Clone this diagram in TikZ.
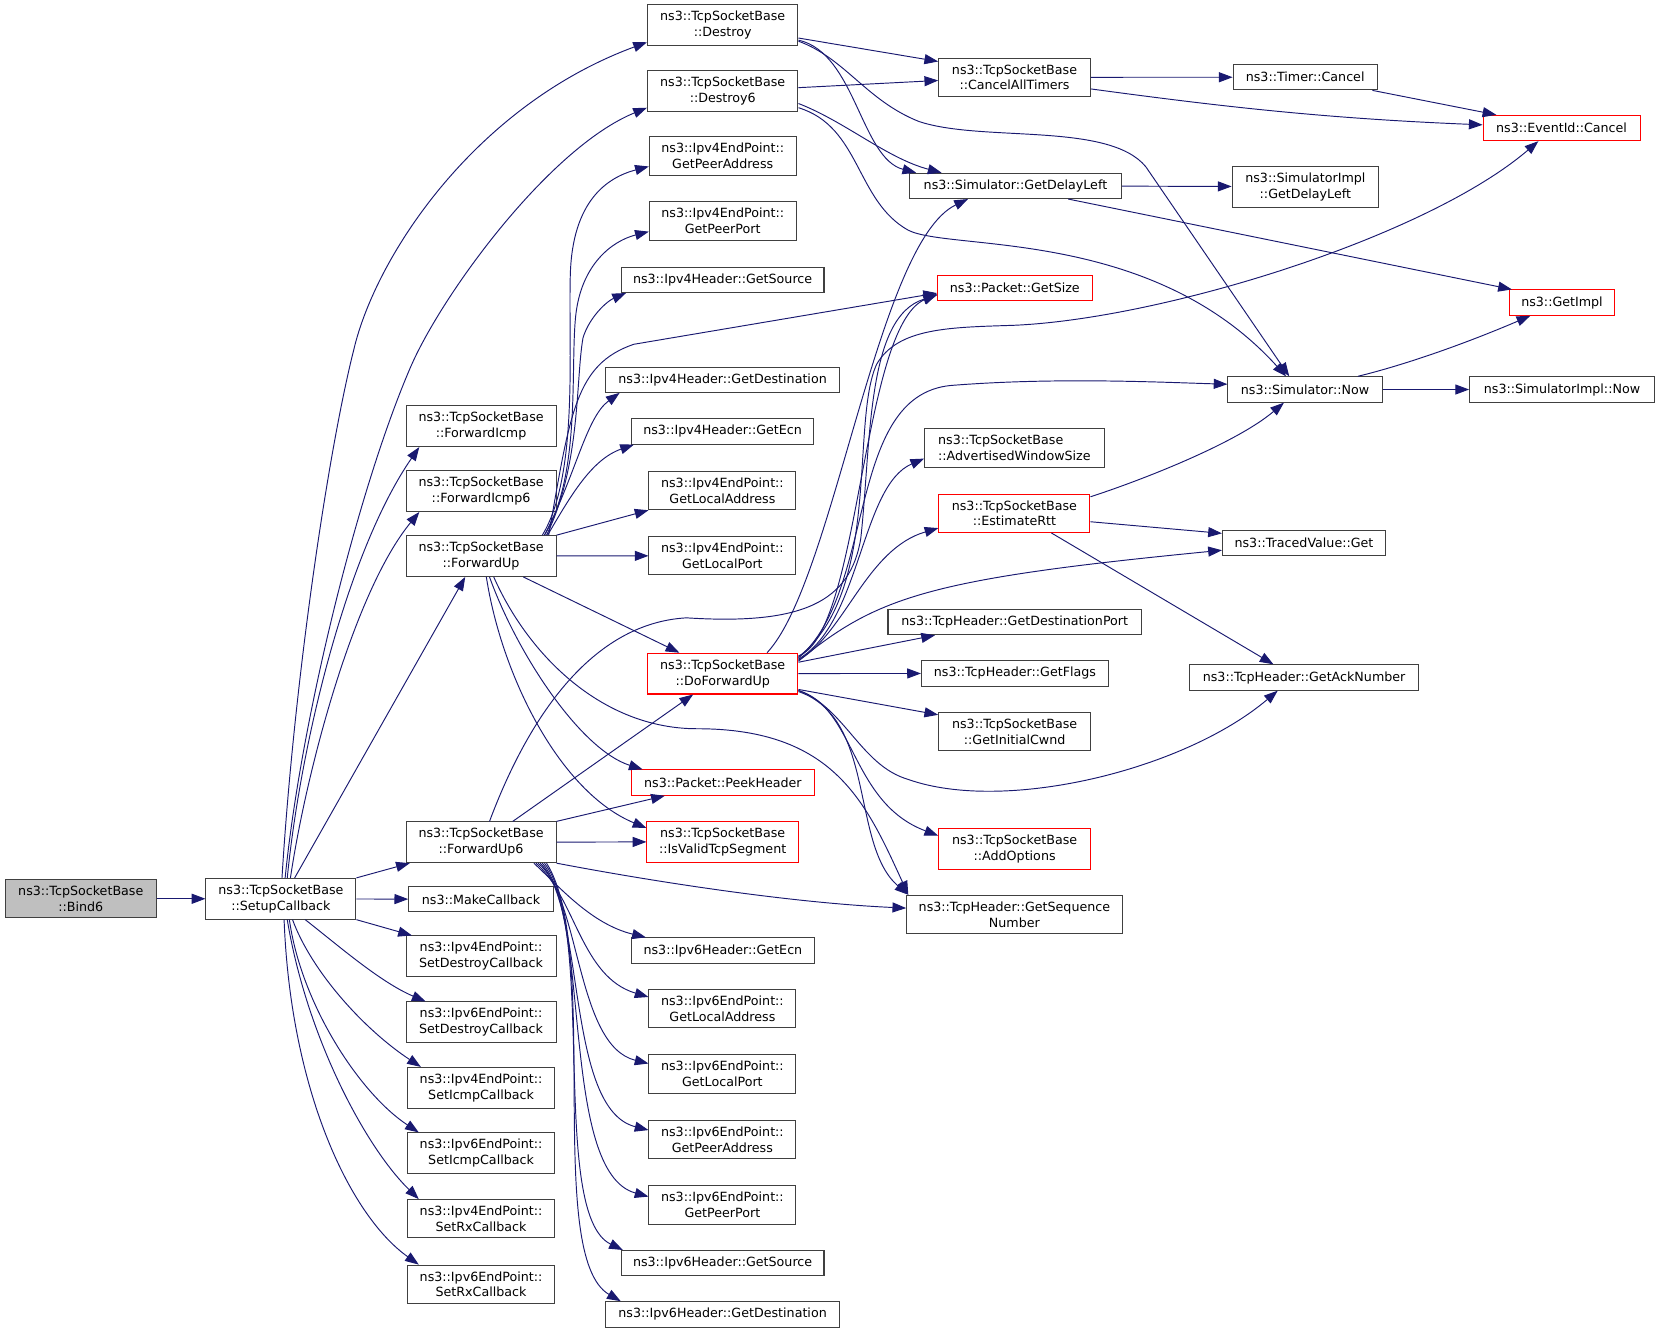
\documentclass[tikz,border=0pt]{standalone}
\usepackage{fontspec}
\setmainfont{DejaVu Sans}
\usetikzlibrary{arrows.meta}
\definecolor{edgeblue}{RGB}{25,25,112}
\definecolor{boxgray}{RGB}{191,191,191}
\definecolor{boxline}{RGB}{64,64,64}

\begin{document}
\begin{tikzpicture} [x=1pt, y=-1pt, fn/.style={rectangle, draw=boxline, line width=0.95pt, align=center, inner xsep=3pt, inner ysep=6pt, minimum height=24pt, font=\fontsize{12}{15}\selectfont}, fnred/.style={fn, draw=red}, fnmain/.style={fn, fill=boxgray}, call/.style={draw=edgeblue, line width=0.9pt, -{Triangle[length=13pt,width=9.5pt]}}]

	\useasboundingbox (0,0) rectangle (1568,1262);

	% caller
	\node [fnmain, minimum width=143pt] (bind6) at (76.5,851) {ns3::TcpSocketBase\\::Bind6};
	\node [fn, minimum width=142pt] (setup) at (266,851) {ns3::TcpSocketBase\\::SetupCallback};

	% callees of SetupCallback
	\node [fn, minimum width=142pt] (ficmp) at (455.5,403.5) {ns3::TcpSocketBase\\::ForwardIcmp};
	\node [fn, below of=ficmp, minimum width=142pt, node distance=61.5pt] (ficmp6) {ns3::TcpSocketBase\\::ForwardIcmp6};
	\node [fn, below of=ficmp6, minimum width=142pt, node distance=61.5pt] (fwdup) {ns3::TcpSocketBase\\::ForwardUp};
	\node [fn, minimum width=142pt] (fwdup6) at (455.5,797.5) {ns3::TcpSocketBase\\::ForwardUp6};
	\node [fn, minimum width=137pt] (mkcb) at (455.5,851.5) {ns3::MakeCallback};
	\node [fn, below of=mkcb, minimum width=142pt, node distance=54pt] (sdes4) {ns3::Ipv4EndPoint::\\SetDestroyCallback};
	\node [fn, below of=sdes4, minimum width=142pt, node distance=62.5pt] (sdes6) {ns3::Ipv6EndPoint::\\SetDestroyCallback};
	\node [fn, below of=sdes6, minimum width=139pt, node distance=62pt] (sicmp4) {ns3::Ipv4EndPoint::\\SetIcmpCallback};
	\node [fn, below of=sicmp4, minimum width=139pt, node distance=62pt] (sicmp6) {ns3::Ipv6EndPoint::\\SetIcmpCallback};
	\node [fn, below of=sicmp6, minimum width=139pt, node distance=62pt] (srx4) {ns3::Ipv4EndPoint::\\SetRxCallback};
	\node [fn, below of=srx4, minimum width=139pt, node distance=62pt] (srx6) {ns3::Ipv6EndPoint::\\SetRxCallback};

	% third column
	\node [fn, minimum width=142.5pt] (destroy) at (684.3,24) {ns3::TcpSocketBase\\::Destroy};
	\node [fn, below of=destroy, minimum width=142.5pt, node distance=62pt] (destroy6) {ns3::TcpSocketBase\\::Destroy6};
	\node [fn, below of=destroy6, minimum width=139pt, node distance=61.6pt] (pa4) {ns3::Ipv4EndPoint::\\GetPeerAddress};
	\node [fn, below of=pa4, minimum width=139pt, node distance=61.7pt] (pp4) {ns3::Ipv4EndPoint::\\GetPeerPort};
	\node [fn, minimum width=192pt] (src4) at (684.2,265) {ns3::Ipv4Header::GetSource};
	\node [fn, minimum width=222pt] (dst4) at (684.2,359.5) {ns3::Ipv4Header::GetDestination};
	\node [fn, minimum width=173pt] (ecn4) at (684.2,408.5) {ns3::Ipv4Header::GetEcn};
	\node [fn, minimum width=139pt] (la4) at (684,464.5) {ns3::Ipv4EndPoint::\\GetLocalAddress};
	\node [fn, below of=la4, minimum width=139pt, node distance=61.7pt] (lp4) {ns3::Ipv4EndPoint::\\GetLocalPort};
	\node [fnred, minimum width=142.5pt] (dofwd) at (684.3,637.8) {ns3::TcpSocketBase\\::DoForwardUp};
	\node [fnred, minimum width=173pt] (peek) at (684.5,741) {ns3::Packet::PeekHeader};
	\node [fnred, minimum width=143.5pt] (valid) at (684.3,797) {ns3::TcpSocketBase\\::IsValidTcpSegment};
	\node [fn, minimum width=173pt] (ecn6) at (684.5,900) {ns3::Ipv6Header::GetEcn};
	\node [fn, minimum width=139pt] (la6) at (684,955) {ns3::Ipv6EndPoint::\\GetLocalAddress};
	\node [fn, below of=la6, minimum width=139pt, node distance=62pt] (lp6) {ns3::Ipv6EndPoint::\\GetLocalPort};
	\node [fn, below of=lp6, minimum width=139pt, node distance=62pt] (pa6) {ns3::Ipv6EndPoint::\\GetPeerAddress};
	\node [fn, below of=pa6, minimum width=139pt, node distance=62pt] (pp6) {ns3::Ipv6EndPoint::\\GetPeerPort};
	\node [fn, minimum width=192pt] (src6) at (684.2,1196) {ns3::Ipv6Header::GetSource};
	\node [fn, minimum width=222pt] (dst6) at (684.2,1244.5) {ns3::Ipv6Header::GetDestination};

	% fourth column
	\node [fn, minimum width=143.6pt] (cancel) at (960.6,73.2) {ns3::TcpSocketBase\\::CancelAllTimers};
	\node [fn, minimum width=201pt] (gdl) at (961.5,176) {ns3::Simulator::GetDelayLeft};
	\node [fnred, minimum width=146.4pt] (getsize) at (960.9,272.5) {ns3::Packet::GetSize};
	\node [fn, minimum width=170pt, align=left] (adv) at (960.5,424.2) {ns3::TcpSocketBase\\::AdvertisedWindowSize};
	\node [fnred, minimum width=143pt] (rtt) at (960.5,486) {ns3::TcpSocketBase\\::EstimateRtt};
	\node [fn, minimum width=240pt] (dport) at (960.8,589) {ns3::TcpHeader::GetDestinationPort};
	\node [fn, minimum width=177pt] (flags) at (961,637.6) {ns3::TcpHeader::GetFlags};
	\node [fn, minimum width=143.8pt] (cwnd) at (960.7,692.8) {ns3::TcpSocketBase\\::GetInitialCwnd};
	\node [fnred, minimum width=143.8pt] (addopt) at (960.7,804.2) {ns3::TcpSocketBase\\::AddOptions};
	\node [fn, minimum width=204pt] (seqnum) at (960.5,865.8) {ns3::TcpHeader::GetSequence\\Number};

	% fifth and sixth column
	\node [fn, minimum width=136.4pt] (timer) at (1235.8,73.1) {ns3::Timer::Cancel};
	\node [fn, minimum width=138.7pt] (simgdl) at (1236,176.7) {ns3::SimulatorImpl\\::GetDelayLeft};
	\node [fn, minimum width=146pt] (now) at (1235.7,368.8) {ns3::Simulator::Now};
	\node [fn, minimum width=154.5pt] (traced) at (1234.7,514) {ns3::TracedValue::Get};
	\node [fn, minimum width=216.4pt] (ack) at (1234.8,641.5) {ns3::TcpHeader::GetAckNumber};
	\node [fnred, minimum width=148.6pt] (eventid) at (1478.6,121.2) {ns3::EventId::Cancel};
	\node [fnred, minimum width=100pt] (getimpl) at (1479,286.5) {ns3::GetImpl};
	\node [fn, minimum width=175pt] (simnow) at (1479,368.8) {ns3::SimulatorImpl::Now};

	% draw edges
	\draw [call] (bind6) -- (setup);

	% SetupCallback
	\draw [call] ([xshift=1pt]setup.north) .. controls (278,650) and (310,430) .. (335,331) .. controls (356,242) and (450,100) .. ([yshift=-16pt]destroy.west);
	\draw [call] ([xshift=4pt]setup.north) .. controls (285,680) and (340,460) .. (389,347) .. controls (419,278) and (520,140) .. ([yshift=-16pt]destroy6.west);
	\draw [call] ([xshift=6pt]setup.north) .. controls (285,700) and (330,520) .. ([xshift=13pt]ficmp.south west);
	\draw [call] ([xshift=9pt]setup.north) .. controls (290,730) and (335,560) .. ([xshift=13pt]ficmp6.south west);
	\draw [call] ([xshift=13pt]setup.north) -- ([xshift=-15pt]fwdup.south);
	\draw [call] (setup.north east) -- ([xshift=4pt]fwdup6.south west);
	\draw [call] (setup) -- (mkcb);
	\draw [call] (setup.south east) -- ([xshift=6pt]sdes4.north west);
	\draw [call] ([xshift=23pt]setup.south) .. controls (320,895) and (360,930) .. ([xshift=19pt]sdes6.north west);
	\draw [call] ([xshift=11pt]setup.south) .. controls (295,920) and (345,975) .. ([xshift=13pt]sicmp4.north west);
	\draw [call] ([xshift=8pt]setup.south) .. controls (285,950) and (340,1035) .. ([xshift=11pt]sicmp6.north west);
	\draw [call] ([xshift=6pt]setup.south) .. controls (290,980) and (345,1085) .. ([xshift=11pt]srx4.north west);
	\draw [call] ([xshift=3pt]setup.south) .. controls (275,1030) and (330,1150) .. ([xshift=11pt]srx6.north west);

	% ForwardUp
	\draw [call] ([xshift=58pt]fwdup.north) .. controls (548,450) and (538,330) .. (540,260) .. controls (542,190) and (575,168) .. ([yshift=-10pt]pa4.west);
	\draw [call] ([xshift=60pt]fwdup.north) .. controls (550,450) and (540,350) .. (545,300) .. controls (550,250) and (580,228) .. ([yshift=-10pt]pp4.west);
	\draw [call] ([xshift=62pt]fwdup.north) .. controls (550,440) and (545,360) .. (552,320) .. controls (558,300) and (575,285) .. ([xshift=5pt]src4.south west);
	\draw [call] ([xshift=64pt]fwdup.north) .. controls (540,390) and (545,345) .. (600,326) -- ([yshift=-5pt]getsize.west);
	\draw [call] ([xshift=60pt]fwdup.north) .. controls (545,450) and (555,395) .. ([xshift=14pt]dst4.south west);
	\draw [call] ([xshift=63pt]fwdup.north) .. controls (540,470) and (560,435) .. ([xshift=3pt]ecn4.south west);
	\draw [call] (fwdup.north east) -- (la4.south west);
	\draw [call] (fwdup) -- (lp4);
	\draw [call] ([xshift=40pt]fwdup.south) -- ([xshift=-41pt]dofwd.north);
	\draw [call] ([xshift=8pt]fwdup.south) .. controls (490,620) and (550,710) .. ([xshift=11pt]peek.north west);
	\draw [call] ([xshift=5pt]fwdup.south) .. controls (475,640) and (530,750) .. ([yshift=13pt]valid.west);
	\draw [call] ([xshift=12pt]fwdup.south) .. controls (500,620) and (570,690) .. (660,690) .. controls (790,690) and (820,760) .. ([xshift=2pt]seqnum.north west);

	% ForwardUp6
	\draw [call] ([xshift=8pt]fwdup6.north) .. controls (500,680) and (560,590) .. (650,585) .. controls (760,592) and (805,570) .. (815,510) .. controls (825,420) and (820,300) .. ([yshift=-7pt]getsize.west);
	\draw [call] ([xshift=30pt]fwdup6.north) -- ([xshift=-28pt]dofwd.south);
	\draw [call] (fwdup6.north east) -- ([xshift=-55pt]peek.south);
	\draw [call] (fwdup6) -- (valid);
	\draw [call] (fwdup6.south east) .. controls (620,835) and (750,855) .. ([yshift=6pt]seqnum.west);
	\draw [call] ([xshift=50pt]fwdup6.south) .. controls (530,840) and (560,875) .. ([xshift=14pt]ecn6.north west);
	\draw [call] ([xshift=52pt]fwdup6.south) .. controls (545,850) and (550,925) .. ([yshift=11pt]la6.west);
	\draw [call] ([xshift=54pt]fwdup6.south) .. controls (550,850) and (545,990) .. ([yshift=10pt]lp6.west);
	\draw [call] ([xshift=56pt]fwdup6.south) .. controls (555,860) and (535,1050) .. ([yshift=9pt]pa6.west);
	\draw [call] ([xshift=58pt]fwdup6.south) .. controls (560,870) and (530,1110) .. ([yshift=8pt]pp6.west);
	\draw [call] ([xshift=60pt]fwdup6.south) .. controls (565,880) and (520,1150) .. ([xshift=2pt]src6.north west);
	\draw [call] ([xshift=62pt]fwdup6.south) .. controls (570,900) and (515,1190) .. ([xshift=15pt]dst6.north west);

	% Destroy and Destroy6
	\draw [call] ([yshift=-12pt]destroy.east) -- ([yshift=15pt]cancel.west);
	\draw [call] ([yshift=-14pt]destroy.east) .. controls (810,50) and (815,150) .. ([xshift=7pt]gdl.north west);
	\draw [call] ([yshift=-15pt]destroy.east) .. controls (800,55) and (820,95) .. (870,115) .. controls (930,135) and (1050,115) .. (1085,158) -- ([xshift=-15pt]now.north);
	\draw [call] ([yshift=3pt]destroy6.east) -- ([yshift=-3pt]cancel.west);
	\draw [call] ([yshift=-12pt]destroy6.east) .. controls (800,115) and (840,150) .. ([xshift=31pt]gdl.north west);
	\draw [call] ([yshift=-16pt]destroy6.east) .. controls (815,120) and (810,190) .. (860,218) .. controls (900,238) and (1090,215) .. ([xshift=-18pt]now.north);

	% CancelAllTimers, GetDelayLeft, Now
	\draw [call] (cancel) -- (timer);
	\draw [call] ([yshift=-11pt]cancel.east) .. controls (1150,100) and (1250,112) .. ([yshift=3pt]eventid.west);
	\draw [call] ([xshift=-5pt]timer.south east) -- ([xshift=13pt]eventid.north west);
	\draw [call] (gdl) -- (simgdl);
	\draw [call] ([xshift=50pt]gdl.south) -- ([xshift=3pt]getimpl.north west);
	\draw [call] ([xshift=50pt]now.north) .. controls (1340,343) and (1400,320) .. ([xshift=-30pt]getimpl.south);
	\draw [call] (now) -- (simnow);

	% EstimateRtt
	\draw [call] ([yshift=-3pt]rtt.north east) .. controls (1080,455) and (1170,420) .. ([xshift=-20pt]now.south);
	\draw [call] ([yshift=-8pt]rtt.east) -- ([yshift=9pt]traced.west);
	\draw [call] ([xshift=35pt]rtt.south) -- ([xshift=-29pt]ack.north);

	% DoForwardUp
	\draw [call] ([xshift=42pt]dofwd.north) .. controls (790,550) and (830,230) .. ([xshift=-45pt]gdl.south);
	\draw [call] ([yshift=-3pt]dofwd.north east) .. controls (815,600) and (815,310) .. ([yshift=-6pt]getsize.west);
	\draw [call] ([yshift=-4pt]dofwd.north east) .. controls (835,560) and (805,400) .. (830,345) .. controls (850,310) and (900,310) .. (960,308) .. controls (1100,302) and (1350,225) .. ([xshift=-22pt]eventid.south);
	\draw [call] ([yshift=-5pt]dofwd.north east) .. controls (830,560) and (800,375) .. (900,365) .. controls (1000,357) and (1100,362) .. ([yshift=5pt]now.west);
	\draw [call] ([yshift=-6pt]dofwd.north east) .. controls (815,590) and (815,460) .. ([yshift=-10pt]adv.west);
	\draw [call] ([yshift=-7pt]dofwd.north east) .. controls (800,600) and (820,520) .. ([yshift=-14pt]rtt.west);
	\draw [call] ([yshift=-8pt]dofwd.north east) .. controls (830,565) and (880,548) .. ([yshift=-7pt]traced.west);
	\draw [call] ([yshift=-9pt]dofwd.north east) -- ([xshift=45pt]dport.south west);
	\draw [call] (dofwd) -- (flags);
	\draw [call] ([yshift=-15pt]dofwd.east) -- ([yshift=16pt]cwnd.west);
	\draw [call] ([yshift=-16pt]dofwd.east) .. controls (800,670) and (815,725) .. (860,738) .. controls (950,770) and (1120,730) .. ([xshift=-25pt]ack.south);
	\draw [call] ([yshift=-16pt]dofwd.east) .. controls (810,670) and (805,760) .. ([yshift=13pt]addopt.west);
	\draw [call] ([yshift=-17pt]dofwd.east) .. controls (830,680) and (805,800) .. ([xshift=2pt]seqnum.north west);

\end{tikzpicture}
\end{document}
